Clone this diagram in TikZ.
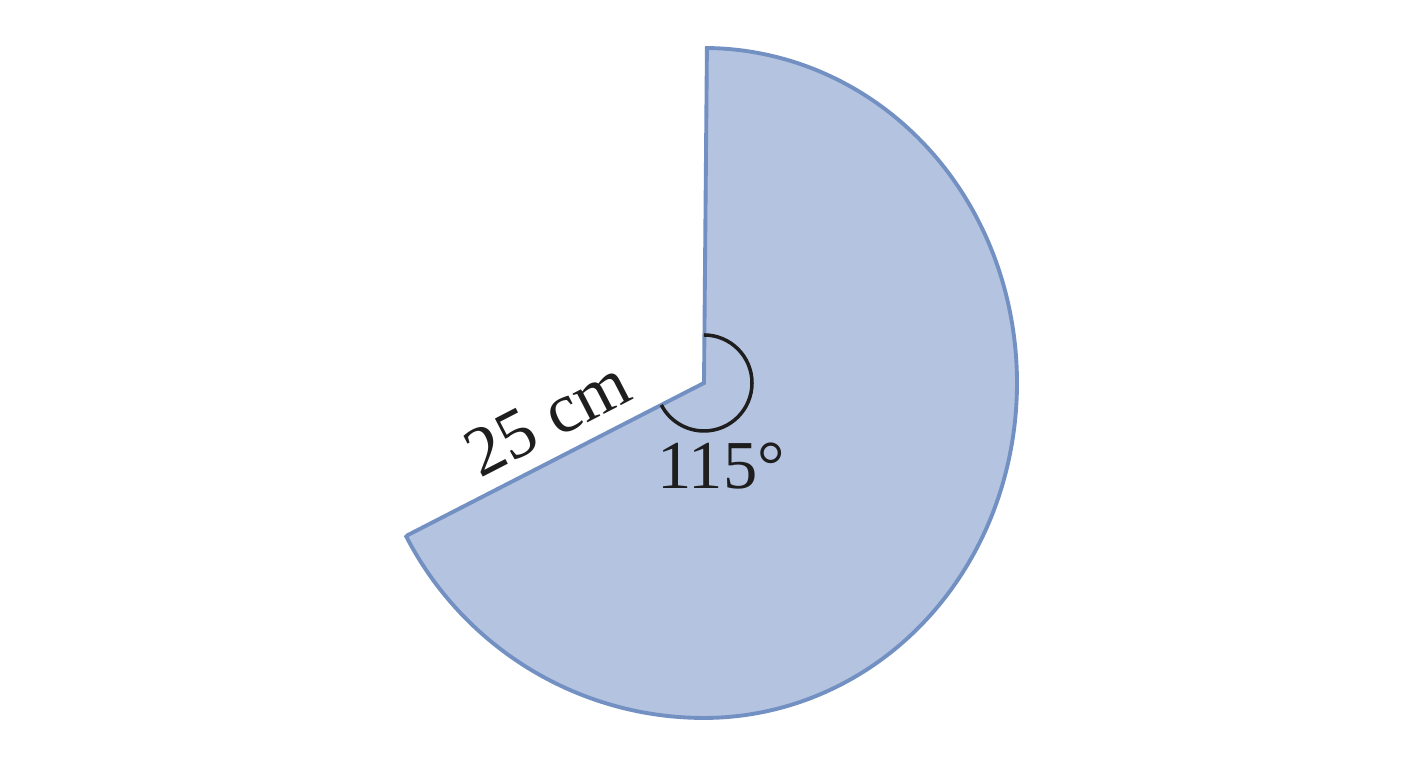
\documentclass[tikz,border=0pt]{standalone}
\usepackage{fontspec}
\setmainfont{Liberation Serif}
\definecolor{sectorfill}{HTML}{B4C3E0}
\definecolor{sectorline}{HTML}{7390C3}
\definecolor{inkc}{HTML}{1E1E1E}
\tikzset{
  sector/.style={fill=sectorfill, draw=sectorline, line width=1.1pt, line join=miter},
  anglemark/.style={draw=inkc, line width=1pt},
  lbl/.style={text=inkc, inner sep=0pt, font=\fontsize{20}{24}\selectfont}
}
\begin{document}
\begin{tikzpicture}[x=0.01cm, y=0.01cm]
\useasboundingbox (0,0) rectangle (1408,768);
\coordinate (C) at (704,385);
\coordinate (L) at (408,233);
\draw[sector] (C) -- plot[domain=89.5:-152.7, samples=300, variable=\t]
  ({704+(335-22*(max(cos(\t),0))^2)*cos(\t)}, {385+(335-22*(max(cos(\t),0))^2)*sin(\t)}) -- (L) -- cycle;
\draw[anglemark] (C) ++(90:48) arc[start angle=90, end angle=-152.7, radius=48];
\node[lbl, font=\fontsize{19.5}{23}\selectfont] (ang) at (721,302) {115°};
\node[lbl, rotate=27.3] (len) at (547,350) {25 cm};
\end{tikzpicture}
\end{document}
